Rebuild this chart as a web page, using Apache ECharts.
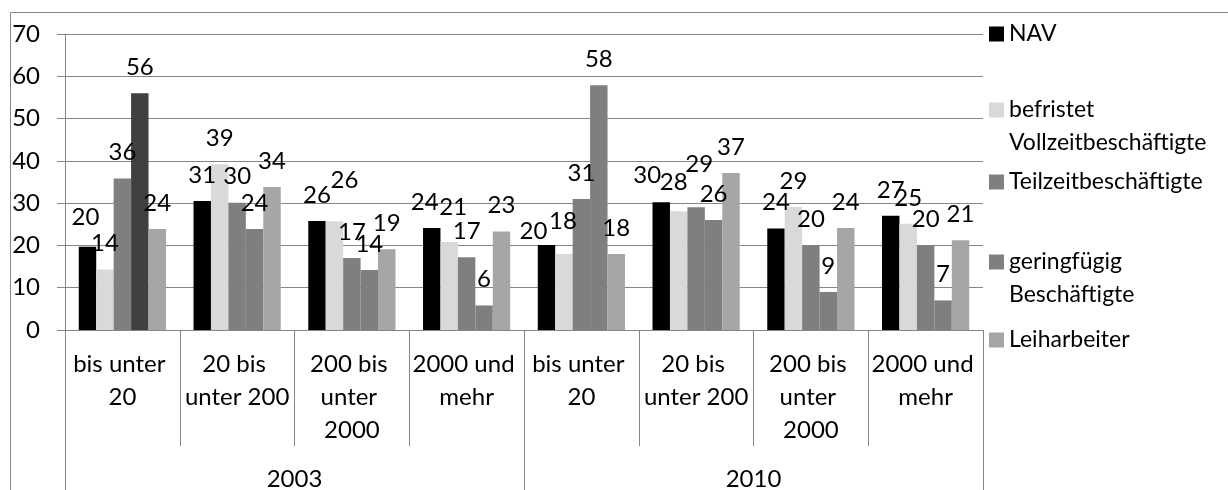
<!DOCTYPE html>
<html><head><meta charset="utf-8">
<script src="https://cdn.jsdelivr.net/npm/echarts@6/dist/echarts.min.js"></script>
<style>html,body{margin:0;padding:0;background:#fff}#c{width:1228px;height:490px}</style>
</head><body><div id="c"></div>
<script>
const sizeClasses = ['bis unter 20', '20 bis unter 200', '200 bis unter 2000', '2000 und mehr'];
const years = ['2003', '2010'];
const seriesNames = ['NAV', 'befristet Vollzeitbeschäftigte', 'Teilzeitbeschäftigte', 'geringfügig Beschäftigte', 'Leiharbeiter'];
const nav          = [19.7, 30.5, 25.8, 24.1, 20.1, 30.2, 24.0, 27.0];
const befristet    = [14.3, 39.2, 25.7, 20.8, 18.0, 28.1, 29.1, 25.1];
const teilzeit     = [35.8, 30.1, 17.0, 17.2, 31.0, 29.0, 20.1, 20.1];
const geringfuegig = [56.0, 23.9, 14.2, 5.8, 57.9, 26.0, 9.0, 7.0];
const leiharbeiter = [23.9, 33.8, 19.1, 23.3, 18.0, 37.1, 24.1, 21.2];
const yTicks = [0, 10, 20, 30, 40, 50, 60, 70];

const colors = ['#000000', '#d9d9d9', '#7f7f7f', '#7f7f7f', '#a6a6a6'];
const darkPointSeries = 3, darkPointIndex = 0, darkPointColor = '#404040';
const FONT = 'Lato';
const GREY = '#868686';
// manual label nudges (style only): key "series-index" -> [dx, dy]
const labelNudges = {
  '0-0': [-2, -3], '1-2': [10, -15], '0-3': [-7, 0], '1-3': [4, -9],
  '0-4': [-13, 12], '1-4': [-1, -7], '0-5': [-14, -1], '1-5': [-5, -3], '2-5': [3, -17]
};

const categories = [];
years.forEach(y => sizeClasses.forEach(s => categories.push(y + '|' + s)));
const values = [nav, befristet, teilzeit, geringfuegig, leiharbeiter];

const series = seriesNames.map((name, si) => ({
  name, type: 'bar', xAxisIndex: 0, yAxisIndex: 0,
  barGap: '0%', barCategoryGap: '24%',
  itemStyle: { color: colors[si] },
  label: { show: true, position: 'top', distance: 12, fontSize: 24, lineHeight: 28,
           fontFamily: FONT, color: '#000', formatter: p => Math.round(p.value) },
  data: values[si].map((v, i) => {
    const item = { value: v };
    if (si === darkPointSeries && i === darkPointIndex) item.itemStyle = { color: darkPointColor };
    const n = labelNudges[si + '-' + i];
    if (n) item.label = { offset: n };
    return item;
  })
}));

const legendTops = [17.5, 60.5, 165.5, 212.5, 323.5];
const twoLine = [false, true, false, true, false];
const legends = seriesNames.map((n, i) => ({
  data: [n], orient: 'vertical', left: 989, top: legendTops[i], padding: 0,
  itemWidth: 15, itemHeight: 15, icon: 'rect', selectedMode: false,
  formatter: name => twoLine[i] ? '\n' + name.replace(' ', '\n') : name,
  textStyle: { fontFamily: FONT, fontSize: 23, lineHeight: 33, color: '#000' }
}));

const chart = echarts.init(document.getElementById('c'), null, { renderer: 'canvas' });
chart.setOption({
  animation: false,
  textStyle: { fontFamily: FONT },
  grid: { left: 65, right: 245, top: 34, bottom: 160, containLabel: false, outerBoundsMode: 'none' },
  legend: legends,
  xAxis: [{
    type: 'category', data: categories, position: 'bottom',
    axisLine: { show: true, lineStyle: { color: GREY, width: 1 } },
    axisTick: { show: true, length: 116, interval: 0, lineStyle: { color: GREY } },
    axisLabel: { interval: 0, margin: 18, fontSize: 24, lineHeight: 33, color: '#000',
                 fontFamily: FONT, width: 112, overflow: 'break',
                 formatter: v => v.split('|')[1] }
  }, {
    type: 'category', data: years, position: 'bottom',
    axisLine: { show: false },
    axisTick: { show: true, length: 170, interval: 0, lineStyle: { color: GREY } },
    axisLabel: { interval: 0, margin: 133, fontSize: 24, lineHeight: 33, color: '#000', fontFamily: FONT }
  }],
  yAxis: {
    type: 'value', min: yTicks[0], max: yTicks[yTicks.length - 1], interval: yTicks[1] - yTicks[0],
    axisLine: { show: true, lineStyle: { color: GREY } },
    axisTick: { show: true, length: 8, lineStyle: { color: GREY } },
    splitLine: { show: true, lineStyle: { color: GREY, width: 1 } },
    axisLabel: { margin: 25, fontSize: 24, color: '#000', fontFamily: FONT }
  },
  graphic: [{
    type: 'rect', silent: true, z: -1,
    shape: { x: 10.5, y: 12.5, width: 1400, height: 600 },
    style: { fill: 'none', stroke: GREY, lineWidth: 1 }
  }],
  series
});
</script></body></html>
